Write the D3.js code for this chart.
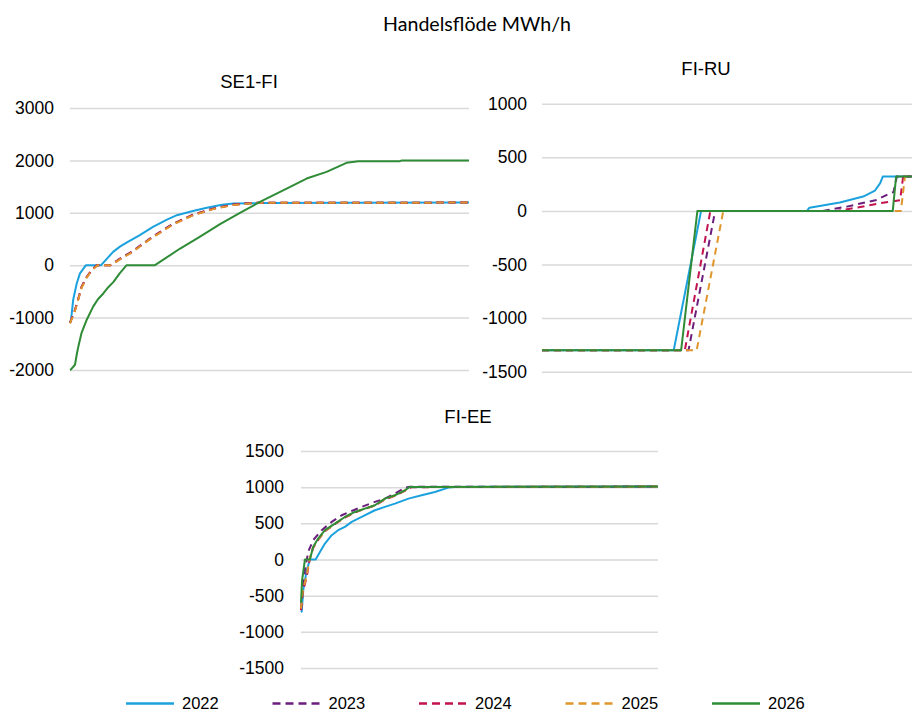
<!DOCTYPE html>
<html><head><meta charset="utf-8">
<script src="https://cdn.jsdelivr.net/npm/d3@7"></script>
<style>
html,body{margin:0;padding:0;background:#fff;}
svg{display:block;}
text{font-family:"Liberation Sans",Arial,sans-serif;fill:#000;}
</style></head>
<body><svg id="c" width="913" height="713"></svg>
<script>
// ---- Data: x = share of hours (%), y = trade flow MWh/h ----
const years = ["2022","2023","2024","2025","2026"];
const colors = ["#1ba1dd","#6b1e7c","#c2124f","#e0962c","#2f8c36"];
const dashed = [false,true,true,true,false];

const se1fi2022 = [[0,-1100],[0.25,-1050],[0.8,-660],[1.7,-345],[2.5,-157],[4,0],[7.8,0],[10.8,254],[12.6,360],[14.5,445],[17.5,575],[20.8,730],[24.3,870],[26.8,955],[30.8,1035],[34.3,1095],[38.1,1155],[40.9,1178],[47.6,1185],[70,1190],[100,1195]];
const se1fi2023 = [[0,-1100],[1.25,-850],[2.1,-630],[2.9,-410],[4.2,-220],[5.4,-95],[6.7,0],[10,0],[12.5,126],[15.4,254],[18.3,414],[20.9,553],[25.9,795],[30.9,967],[35.9,1081],[40.9,1158],[46,1190],[100,1195]];
const se1fi2024 = [[0,-1100],[1.25,-860],[2.1,-640],[2.9,-420],[4.2,-230],[5.4,-100],[6.8,0],[10.2,0],[12.5,115],[15.4,245],[18.3,405],[20.9,545],[25.9,785],[30.9,960],[35.9,1075],[40.9,1155],[46.5,1190],[100,1195]];
const se1fi2025 = [[0,-1110],[1.25,-870],[2.1,-650],[2.9,-430],[4.2,-235],[5.4,-105],[6.9,0],[10.3,0],[12.5,110],[15.4,240],[18.3,400],[20.9,540],[25.9,780],[30.9,955],[35.9,1070],[40.9,1150],[47,1190],[100,1195]];
const se1fi2026 = [[0,-2000],[0.25,-1990],[1.25,-1900],[1.7,-1700],[2.1,-1550],[2.9,-1290],[4.2,-1040],[5.8,-790],[7.0,-650],[8.4,-535],[9.6,-420],[10.9,-318],[12.5,-150],[14.2,0],[21.3,0],[27.6,318],[32.5,540],[37.6,782],[42.6,998],[47.6,1209],[54.3,1463],[59.3,1654],[64.3,1781],[69.3,1953],[72.3,1985],[82.7,1985],[83.2,2000],[100,2000]];

const firu2022 = [[0,-1300],[35.6,-1300],[43.0,0],[71.6,0],[72.3,30],[80.5,78],[86.8,134],[90.0,190],[91.4,259],[92.1,320],[100,320]];
const firu2023 = [[0,-1300],[39.6,-1300],[46.8,0],[75.9,0],[82.4,40],[90.5,103],[94.1,165],[95.0,175],[95.9,320],[100,320]];
const firu2024 = [[0,-1300],[38.6,-1300],[45.5,0],[79.6,0],[85.1,31],[91.4,72],[94.1,87],[96.8,100],[97.6,320],[100,320]];
const firu2025 = [[0,-1300],[41.8,-1300],[49.0,0],[97.0,0],[98.1,320],[100,320]];
const firu2026 = [[0,-1300],[37.6,-1300],[42.0,0],[94.8,0],[95.7,320],[100,320]];

const fiee2022 = [[0,-730],[0.2,-720],[0.64,-420],[1.6,-150],[2.5,0],[4.1,0],[5.3,105],[6.7,221],[8.6,336],[10.4,405],[12.3,451],[14.2,520],[17,588],[20.7,681],[23.5,727],[26.3,773],[30.1,842],[33.8,888],[37.5,934],[41.3,994],[43.1,1003],[70,1005],[100,1010]];
const fiee2023 = [[0,-700],[0.5,-400],[1.1,-150],[2.0,105],[3.4,267],[5.8,405],[8.6,520],[11.4,612],[14.2,671],[17,727],[20.7,796],[23.5,842],[26.3,911],[29.1,994],[30.5,1005],[100,1008]];
const fiee2024 = [[0,-700],[0.5,-450],[1.6,-240],[2.5,20],[3.4,160],[4.8,270],[6.7,390],[9.5,490],[12.3,580],[15.1,650],[17.9,700],[20.7,745],[23.5,830],[26.3,880],[29.1,950],[31,1000],[100,1008]];
const fiee2025 = [[0,-680],[0.5,-430],[1.6,-220],[2.5,30],[3.4,170],[4.8,280],[6.7,395],[9.5,495],[12.3,585],[15.1,655],[17.9,702],[20.7,748],[23.5,835],[26.3,885],[29.1,955],[30.8,1002],[100,1008]];
const fiee2026 = [[0,-600],[0.28,-300],[1.1,0],[2.5,0],[3.4,174],[4.8,290],[6.7,405],[9.5,497],[12.3,588],[15.1,657],[17.9,704],[20.7,750],[23.5,842],[26.3,888],[29.1,957],[30.5,1003],[100,1008]];

const se1fiTicks = [-2000,-1000,0,1000,2000,3000];
const firuTicks = [-1500,-1000,-500,0,500,1000];
const fieeTicks = [-1500,-1000,-500,0,500,1000,1500];

const mainTitle = "Handelsflöde MWh/h";

// ---- Layout ----
const panels = [
  {title:"SE1-FI", series:[se1fi2022,se1fi2023,se1fi2024,se1fi2025,se1fi2026], ticks:se1fiTicks,
   x0:70, x1:469, yTop:108, yBot:370, labelX:54, titleX:249, titleY:88},
  {title:"FI-RU", series:[firu2022,firu2023,firu2024,firu2025,firu2026], ticks:firuTicks,
   x0:542, x1:912, yTop:103.7, yBot:371.7, labelX:527, titleX:706, titleY:75},
  {title:"FI-EE", series:[fiee2022,fiee2023,fiee2024,fiee2025,fiee2026], ticks:fieeTicks,
   x0:301, x1:658, yTop:451, yBot:668, labelX:284, titleX:468, titleY:423}
];

const svg = d3.select("#c");

svg.append("text").attr("x",477).attr("y",31).attr("text-anchor","middle")
  .style("font-family","Lato, 'Open Sans', sans-serif").style("font-size","19.6px").text(mainTitle);

panels.forEach(p => {
  const x = d3.scaleLinear().domain([0,100]).range([p.x0,p.x1]);
  const y = d3.scaleLinear().domain([d3.min(p.ticks), d3.max(p.ticks)]).range([p.yBot,p.yTop]);
  const g = svg.append("g");
  const ax = d3.axisLeft(y).tickValues(p.ticks).tickSize(-(p.x1-p.x0)).tickPadding(p.x0-p.labelX).tickFormat(d => String(d));
  const a = g.append("g").attr("transform",`translate(${p.x0},0)`).call(ax);
  a.select(".domain").remove();
  a.selectAll(".tick line").attr("stroke","#d9d9d9").attr("stroke-width",1.5);
  a.selectAll(".tick text").style("font-size","17.5px").style("font-family","'Liberation Sans',Arial,sans-serif").attr("fill","#000");
  g.append("text").attr("x",p.titleX).attr("y",p.titleY).attr("text-anchor","middle").style("font-size","18.5px").text(p.title);
  const line = d3.line().x(d=>x(d[0])).y(d=>y(d[1]));
  p.series.forEach((s,i) => {
    g.append("path").datum(s).attr("d",line).attr("fill","none")
      .attr("stroke",colors[i]).attr("stroke-width",2)
      .attr("stroke-dasharray", dashed[i] ? "7,5" : null)
      .attr("stroke-linejoin","round");
  });
});

// ---- Legend ----
const lg = svg.append("g");
years.forEach((yr,i) => {
  const lx = 126 + i*146.5;
  lg.append("line").attr("x1",lx).attr("x2",lx+48).attr("y1",703.5).attr("y2",703.5)
    .attr("stroke",colors[i]).attr("stroke-width",2.5).attr("stroke-dasharray", dashed[i] ? "8,5" : null);
  lg.append("text").attr("x",lx+56).attr("y",709).style("font-size","16.5px").text(yr);
});
</script></body></html>
